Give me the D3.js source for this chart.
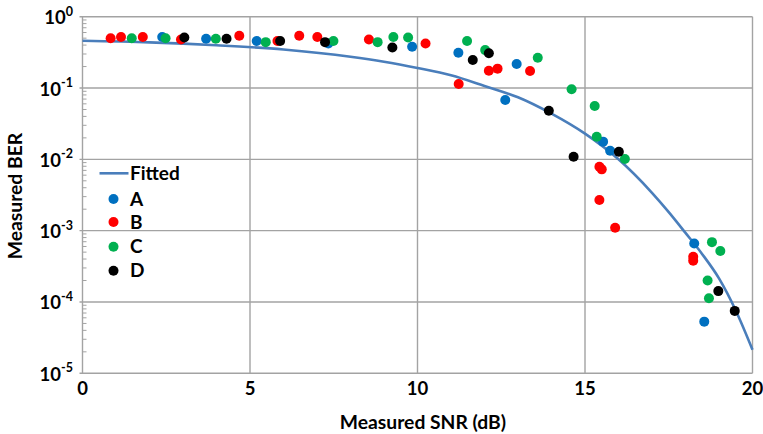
<!DOCTYPE html>
<html>
<head>
<meta charset="utf-8">
<script src="https://cdn.jsdelivr.net/npm/d3@7"></script>
<style>
  html, body { margin: 0; padding: 0; background: #fff; }
  svg { display: block; font-family: Lato, "Open Sans", sans-serif; font-weight: 700; }
</style>
</head>
<body>
<svg id="chart" width="763" height="434"></svg>
<script>
// ---- data ----
const xTicks = [0, 5, 10, 15, 20];
const yExponents = [0, -1, -2, -3, -4, -5];

const snrFit = [0, 2, 4, 6, 8, 9, 10, 11, 12, 13, 14, 15, 16, 17, 17.5, 18, 18.5, 19, 19.5, 20];
const berFit = [0.46, 0.437, 0.398, 0.347, 0.275, 0.234, 0.191, 0.151, 0.107, 0.0741, 0.0437, 0.0229, 0.01,
                0.00339, 0.00182, 9.3e-4, 4.68e-4, 2.14e-4, 7.6e-5, 2.14e-5];

const snrA = [2.38, 3.69, 5.20, 7.34, 9.84, 11.22, 12.62, 12.96, 15.54, 15.75, 18.26, 18.56];
const berA = [0.52, 0.49, 0.457, 0.42, 0.38, 0.313, 0.068, 0.217, 0.0177, 0.0132, 6.6e-4, 5.3e-5];

const snrB = [0.84, 1.15, 1.80, 2.94, 4.68, 5.82, 6.47, 7.01, 8.55, 10.24, 11.23, 12.13, 12.39, 13.36,
              15.43, 15.50, 15.43, 15.90, 18.23, 18.23];
const berB = [0.50, 0.52, 0.52, 0.48, 0.54, 0.456, 0.54, 0.52, 0.48, 0.42, 0.114, 0.175, 0.187, 0.173,
              0.00787, 0.00724, 0.00269, 0.0011, 4.3e-4, 3.8e-4];

const snrC = [1.47, 2.48, 3.98, 5.47, 7.49, 8.81, 9.28, 9.72, 11.48, 12.02, 13.59, 14.60, 15.29, 15.35,
              16.19, 18.79, 19.04, 18.66, 18.70];
const berC = [0.50, 0.50, 0.49, 0.44, 0.456, 0.44, 0.52, 0.51, 0.456, 0.34, 0.266, 0.096, 0.056, 0.0207,
              0.0101, 6.9e-4, 5.2e-4, 2.0e-4, 1.13e-4];

const snrD = [3.04, 4.30, 5.90, 7.24, 9.25, 11.65, 12.13, 13.92, 14.66, 16.01, 18.98, 19.47];
const berD = [0.51, 0.49, 0.456, 0.44, 0.37, 0.247, 0.307, 0.048, 0.0109, 0.0128, 1.42e-4, 7.5e-5];

const seriesNames = ["A", "B", "C", "D"];
const seriesColors = ["#0070C0", "#FF0000", "#00B050", "#000000"];
const fitName = "Fitted";
const fitColor = "#4a7ebb";

// ---- layout ----
const W = 763, H = 434;
const m = { left: 82.5, right: 10.5, top: 16.7, bottom: 60.7 };
const svg = d3.select("#chart");

const x = d3.scaleLinear().domain([0, 20]).range([m.left, W - m.right]);
const y = d3.scaleLog().domain([1e-5, 1]).range([H - m.bottom, m.top]);

const gridColor = "#a3a3a3";

// gridlines
const g = svg.append("g");
g.selectAll("line.vg").data(xTicks).join("line")
  .attr("x1", d => x(d)).attr("x2", d => x(d))
  .attr("y1", m.top).attr("y2", H - m.bottom)
  .attr("stroke", gridColor).attr("stroke-width", 1.4);
g.selectAll("line.hg").data(yExponents).join("line")
  .attr("x1", m.left - 3).attr("x2", W - m.right)
  .attr("y1", d => y(Math.pow(10, d))).attr("y2", d => y(Math.pow(10, d)))
  .attr("stroke", gridColor).attr("stroke-width", 1.4);

// minor ticks on y axis
const minor = [];
yExponents.slice(1).forEach(e => { for (let k = 2; k <= 9; k++) minor.push(k * Math.pow(10, e)); });
g.selectAll("line.mt").data(minor).join("line")
  .attr("x1", m.left).attr("x2", m.left + 4)
  .attr("y1", d => y(d)).attr("y2", d => y(d))
  .attr("stroke", gridColor).attr("stroke-width", 1);

// y tick labels 10^n
const yl = svg.append("g");
yExponents.forEach(e => {
  const t = yl.append("text")
    .attr("x", 73).attr("y", y(Math.pow(10, e)) + 7.5)
    .attr("text-anchor", "end").attr("font-size", 18.5).attr("fill", "#000");
  t.append("tspan").text("10");
  t.append("tspan").attr("dy", -8.5).attr("font-size", 12.5).text(e === 0 ? "0" : "-" + Math.abs(e));
});

// x tick labels
svg.append("g").selectAll("text").data(xTicks).join("text")
  .attr("x", d => x(d)).attr("y", 395)
  .attr("text-anchor", "middle").attr("font-size", 18.5).attr("fill", "#000")
  .text(d => d);

// axis titles
svg.append("text").attr("x", 423).attr("y", 429)
  .attr("text-anchor", "middle").attr("font-size", 19.3).text("Measured SNR (dB)");
svg.append("text").attr("transform", "translate(22,196) rotate(-90)")
  .attr("text-anchor", "middle").attr("font-size", 19.3).text("Measured BER");

// fitted curve
const line = d3.line().x(d => x(d[0])).y(d => y(d[1])).curve(d3.curveMonotoneX);
svg.append("path").datum(snrFit.map((s, i) => [s, berFit[i]]))
  .attr("d", line).attr("fill", "none").attr("stroke", fitColor).attr("stroke-width", 2.6);

// scatter series
const allSeries = [[snrA, berA], [snrB, berB], [snrC, berC], [snrD, berD]];
allSeries.forEach((s, k) => {
  svg.append("g").selectAll("circle").data(s[0].map((v, i) => [v, s[1][i]])).join("circle")
    .attr("cx", d => x(d[0])).attr("cy", d => y(d[1])).attr("r", 5)
    .attr("fill", seriesColors[k]);
});

// legend
const lg = svg.append("g");
lg.append("line").attr("x1", 99.5).attr("x2", 128.5).attr("y1", 173.3).attr("y2", 173.3)
  .attr("stroke", fitColor).attr("stroke-width", 2.6);
lg.append("text").attr("x", 130).attr("y", 180).attr("font-size", 19).text(fitName);
const legY = [199, 222, 246.7, 270.7];
seriesNames.forEach((n, k) => {
  lg.append("circle").attr("cx", 113.5).attr("cy", legY[k]).attr("r", 5).attr("fill", seriesColors[k]);
  lg.append("text").attr("x", 130).attr("y", legY[k] + 6.5).attr("font-size", 19).text(n);
});
</script>
</body>
</html>
